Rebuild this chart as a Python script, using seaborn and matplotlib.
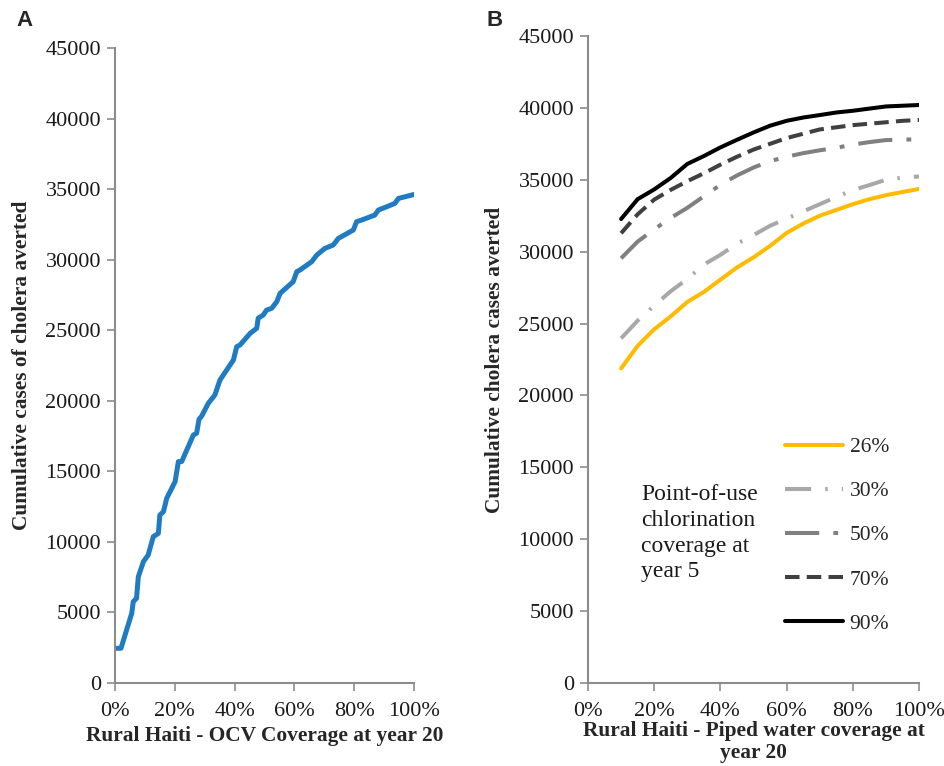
import numpy as np
import pandas as pd
import matplotlib
matplotlib.use("Agg")
import matplotlib.pyplot as plt
from matplotlib.ticker import PercentFormatter, MultipleLocator
import seaborn as sns

# ---------------- data ----------------
ocv_coverage = [0, 2, 5.6, 6.1, 7.2, 7.8, 9.5, 11.1, 12.8, 14.5, 15, 16.2, 17.3, 20.1, 21.2, 22.3,
                26.2, 27.3, 28.1, 29, 31.2, 33.4, 35.1, 39.6, 40.7, 41.8, 45.2, 47.4, 47.9, 49.6,
                50.7, 52.4, 54.1, 55.2, 59.6, 60.8, 61.9, 65.8, 67.5, 70.2, 73, 74.7, 79.7, 80.8,
                82.5, 86.9, 88.1, 90.9, 93.6, 94.8, 100]
ocv_averted = [2460, 2460, 4940, 5760, 6000, 7530, 8600, 9070, 10370, 10600, 11900, 12140, 13090,
               14270, 15690, 15690, 17570, 17700, 18690, 18920, 19820, 20410, 21470, 22890, 23830,
               23950, 24780, 25140, 25850, 26080, 26430, 26550, 27020, 27610, 28440, 29150, 29270,
               29860, 30330, 30800, 31040, 31510, 32100, 32690, 32810, 33160, 33520, 33750, 33990,
               34340, 34620]

piped_coverage = [10, 15, 20, 25, 30, 35, 40, 45, 50, 55, 60, 65, 70, 75, 80, 85, 90, 95, 100]
pou_26 = [21880, 23450, 24600, 25500, 26500, 27200, 28050, 28900, 29600, 30400, 31300, 31950,
          32500, 32900, 33300, 33650, 33930, 34150, 34360]
pou_30 = [23970, 25200, 26250, 27250, 28100, 29100, 29780, 30550, 31150, 31800, 32300, 32800,
          33300, 33800, 34280, 34630, 35000, 35150, 35230]
pou_50 = [29540, 30700, 31550, 32350, 33050, 33850, 34650, 35300, 35850, 36300, 36600, 36850,
          37050, 37220, 37450, 37620, 37760, 37790, 37820]
pou_70 = [31280, 32600, 33620, 34300, 34900, 35450, 36050, 36600, 37100, 37500, 37900, 38200,
          38500, 38650, 38800, 38900, 39000, 39100, 39160]
pou_90 = [32270, 33650, 34330, 35130, 36100, 36650, 37250, 37780, 38290, 38760, 39100, 39330,
          39500, 39680, 39800, 39950, 40100, 40150, 40200]
pou_labels = ["26%", "30%", "50%", "70%", "90%"]
x_ticks = [0, 20, 40, 60, 80, 100]
y_ticks = [0, 5000, 10000, 15000, 20000, 25000, 30000, 35000, 40000, 45000]

# ---------------- style ----------------
sns.set_theme(style="ticks")
plt.rcParams["font.family"] = ["Liberation Serif", "DejaVu Serif"]
plt.rcParams["axes.edgecolor"] = "#8c8c8c"
plt.rcParams["xtick.color"] = "#8c8c8c"
plt.rcParams["ytick.color"] = "#8c8c8c"
plt.rcParams["xtick.labelcolor"] = "#1a1a1a"
plt.rcParams["ytick.labelcolor"] = "#1a1a1a"

W, H = 945, 766
fig = plt.figure(figsize=(W / 100, H / 100), dpi=100)

def frac_ax(l, r, t, b):
    return fig.add_axes([l / W, 1 - b / H, (r - l) / W, (b - t) / H])

axA = frac_ax(115, 414, 48, 683)
axB = frac_ax(588, 919, 36, 683)

dfA = pd.DataFrame({"cov": ocv_coverage, "averted": ocv_averted})
sns.lineplot(data=dfA, x="cov", y="averted", ax=axA, color="#1f7bc2", lw=3.6,
             estimator=None, sort=False)

series = [pou_26, pou_30, pou_50, pou_70, pou_90]
colors = ["#ffbb00", "#a8a8a8", "#808080", "#404040", "#000000"]
styles = ["-", (0, (6.5, 3.5, 0.6, 3.5)), (0, (8.5, 3.5, 1.2, 3.5)), (0, (3.6, 1.8)), "-"]
for vals, lab, c, ls in zip(series, pou_labels, colors, styles):
    df = pd.DataFrame({"cov": piped_coverage, "averted": vals})
    sns.lineplot(data=df, x="cov", y="averted", ax=axB, color=c, lw=2.9, linestyle=ls,
                 label=lab, estimator=None, sort=False)

for ax in (axA, axB):
    ax.set_xlim(0, 100)
    ax.set_ylim(0, 45000)
    ax.set_xticks(x_ticks)
    ax.set_yticks(y_ticks)
    ax.xaxis.set_major_formatter(PercentFormatter(decimals=0))
    ax.tick_params(axis="both", labelsize=16, length=6, width=1.2, pad=4)
    ax.tick_params(axis="x", pad=8)
    for s in ("top", "right"):
        ax.spines[s].set_visible(False)
    for s in ("left", "bottom"):
        ax.spines[s].set_linewidth(1.5)

axA.set_xlabel("Rural Haiti - OCV Coverage at year 20", fontsize=15.4, fontweight="bold", labelpad=3)
axA.set_ylabel("Cumulative cases of cholera averted", fontsize=15.4, fontweight="bold", labelpad=10)
axB.set_xlabel("Rural Haiti - Piped water coverage at\nyear 20", fontsize=15.4, fontweight="bold",
               labelpad=0, linespacing=1.1)
axB.set_ylabel("Cumulative cholera cases averted", fontsize=15.4, fontweight="bold", labelpad=10)

leg = axB.legend(loc="upper left", bbox_to_anchor=((785 - 588) / 331, (683 - 437) / 647),
                 frameon=False, fontsize=15.5, handlelength=2.7, handletextpad=0.3,
                 labelspacing=1.12, borderpad=0, borderaxespad=0)

axB.text((641 - 588) / 331, (683 - 484) / 647, "Point-of-use\nchlorination\ncoverage at\nyear 5",
         transform=axB.transAxes, fontsize=17, va="top", ha="left", linespacing=1.3,
         color="#1a1a1a")

fig.text(16 / W, 1 - 20 / H, "A", fontsize=16, fontweight="bold", va="center", ha="left",
         family=["Liberation Sans", "DejaVu Sans"])
fig.text(487 / W, 1 - 20 / H, "B", fontsize=16, fontweight="bold", va="center", ha="left",
         family=["Liberation Sans", "DejaVu Sans"])

fig.savefig("out.png", dpi=100, facecolor="white")
